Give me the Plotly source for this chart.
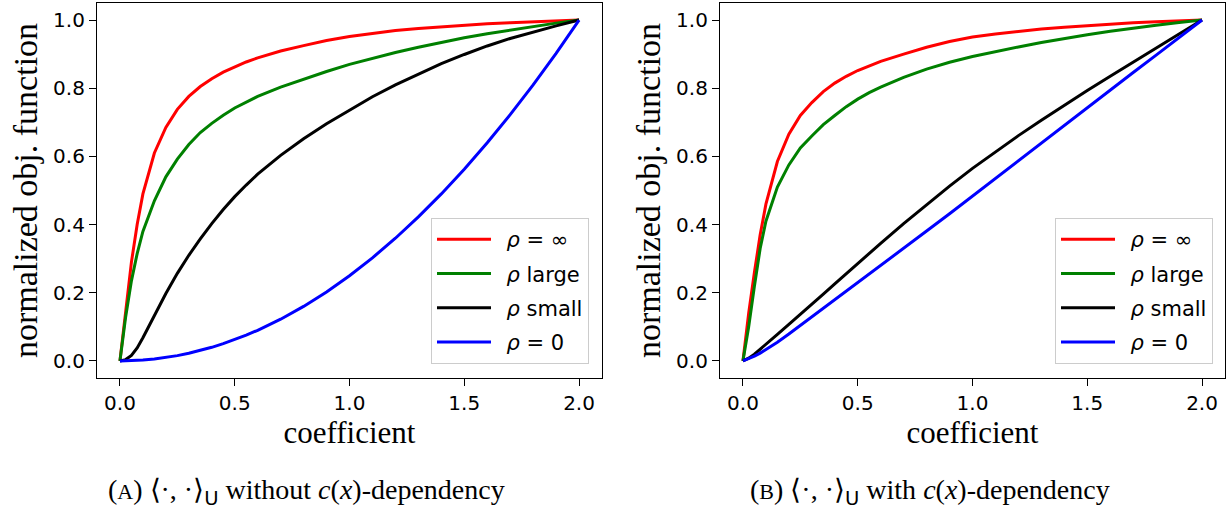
import plotly.graph_objects as go

# ---------------- data ----------------
X = [0, 0.025, 0.05, 0.075, 0.1, 0.15, 0.2, 0.25, 0.3, 0.35, 0.4, 0.45, 0.5,
     0.55, 0.6, 0.7, 0.8, 0.9, 1.0, 1.1, 1.2, 1.3, 1.4, 1.5, 1.6, 1.7, 1.8,
     1.9, 2.0]

# (A) without c(x)-dependency
red_A = [0, 0.15, 0.29, 0.40, 0.49, 0.61, 0.685, 0.738, 0.776, 0.805, 0.828,
         0.847, 0.863, 0.877, 0.889, 0.909, 0.925, 0.94, 0.952, 0.961, 0.969,
         0.975, 0.98, 0.985, 0.989, 0.992, 0.995, 0.998, 1.0]
green_A = [0, 0.13, 0.235, 0.315, 0.38, 0.47, 0.54, 0.592, 0.635, 0.67, 0.697,
           0.721, 0.742, 0.76, 0.776, 0.803, 0.827, 0.849, 0.87, 0.888, 0.905,
           0.92, 0.935, 0.948, 0.96, 0.971, 0.981, 0.991, 1.0]
black_A = [0, 0.004, 0.016, 0.038, 0.068, 0.135, 0.198, 0.257, 0.31, 0.358,
           0.403, 0.444, 0.482, 0.516, 0.548, 0.603, 0.652, 0.696, 0.736, 0.775,
           0.81, 0.842, 0.872, 0.899, 0.924, 0.946, 0.965, 0.983, 1.0]
blue_A = [0, 0.0002, 0.0006, 0.0014, 0.0025, 0.0056, 0.01, 0.0156, 0.0225,
          0.0306, 0.04, 0.0506, 0.0625, 0.0756, 0.09, 0.1225, 0.16, 0.2025,
          0.25, 0.3025, 0.36, 0.4225, 0.49, 0.5625, 0.64, 0.7225, 0.81, 0.9025,
          1.0]

# (B) with c(x)-dependency
red_B = [0, 0.14, 0.26, 0.37, 0.46, 0.585, 0.665, 0.72, 0.758, 0.79, 0.815,
         0.835, 0.852, 0.866, 0.879, 0.9, 0.92, 0.937, 0.95, 0.959, 0.967,
         0.974, 0.979, 0.984, 0.988, 0.992, 0.995, 0.998, 1.0]
green_B = [0, 0.10, 0.22, 0.33, 0.41, 0.51, 0.575, 0.625, 0.66, 0.693, 0.72,
           0.746, 0.768, 0.787, 0.803, 0.832, 0.856, 0.876, 0.893, 0.908,
           0.921, 0.934, 0.946, 0.957, 0.967, 0.977, 0.985, 0.993, 1.0]
black_B = [0, 0.008, 0.02, 0.034, 0.049, 0.078, 0.107, 0.136, 0.166, 0.196,
           0.226, 0.256, 0.286, 0.316, 0.345, 0.403, 0.459, 0.513, 0.565,
           0.614, 0.661, 0.706, 0.75, 0.793, 0.835, 0.877, 0.918, 0.959, 1.0]
blue_B = [0, 0.006, 0.014, 0.023, 0.033, 0.055, 0.079, 0.104, 0.129, 0.154,
          0.179, 0.204, 0.229, 0.254, 0.279, 0.33, 0.381, 0.432, 0.484, 0.535,
          0.587, 0.639, 0.691, 0.743, 0.794, 0.846, 0.897, 0.949, 1.0]

names = ["\u2002<i>ρ</i> = ∞", "\u2002<i>ρ</i> large", "\u2002<i>ρ</i> small",
         "\u2002<i>ρ</i> = 0"]
colors = ["#ff0000", "#008000", "#000000", "#0000ff"]
series_A = [red_A, green_A, black_A, blue_A]
series_B = [red_B, green_B, black_B, blue_B]

x_ticks = [0, 0.5, 1.0, 1.5, 2.0]
y_ticks = [0, 0.2, 0.4, 0.6, 0.8, 1.0]

caption_A = ("(<span style='font-size:22px'>A</span>) ⟨·, ·⟩<sub><span style='font-family:DejaVu Sans'>U</span></sub>"
             " without <i>c</i>(<i>x</i>)-dependency")
caption_B = ("(<span style='font-size:22px'>B</span>) ⟨·, ·⟩<sub><span style='font-family:DejaVu Sans'>U</span></sub>"
             " with <i>c</i>(<i>x</i>)-dependency")

# ---------------- figure ----------------
W, H = 1231, 514
fig = go.Figure()

for i in range(4):
    fig.add_trace(go.Scatter(x=X, y=series_A[i], mode="lines", name=names[i],
                             line=dict(color=colors[i], width=3),
                             xaxis="x", yaxis="y", legend="legend",
                             legendgroup="a%d" % i))
for i in range(4):
    fig.add_trace(go.Scatter(x=X, y=series_B[i], mode="lines", name=names[i],
                             line=dict(color=colors[i], width=3),
                             xaxis="x2", yaxis="y2", legend="legend2",
                             legendgroup="b%d" % i))

tick_font = dict(family="DejaVu Sans", size=20, color="black")
xtitle_font = dict(family="Liberation Serif", size=31, color="black")
ytitle_font = dict(family="Liberation Serif", size=34, color="black")

def xax(domain, anchor):
    return dict(domain=domain, anchor=anchor, range=[-0.1, 2.1], tickvals=x_ticks,
                tickformat=".1f", ticks="outside", ticklen=7, tickwidth=1.2,
                tickcolor="black", showline=True, mirror=True, linecolor="black",
                linewidth=1.2, showgrid=False, zeroline=False, tickfont=tick_font,
                title=dict(text="coefficient", font=xtitle_font, standoff=4))

def yax(anchor):
    return dict(domain=[1 - 378 / H, 1 - 3 / H], anchor=anchor, range=[-0.05, 1.05],
                tickvals=y_ticks, tickformat=".1f", ticks="outside", ticklen=7,
                tickwidth=1.2, tickcolor="black", showline=True, mirror=True,
                linecolor="black", linewidth=1.2, showgrid=False, zeroline=False,
                tickfont=tick_font,
                title=dict(text="normalized obj. function", font=ytitle_font, standoff=5))

def leg(xr):
    return dict(x=xr, y=1 - 364 / H, xanchor="right", yanchor="bottom",
                bgcolor="white", bordercolor="#cccccc", borderwidth=1,
                font=dict(family="DejaVu Sans", size=21, color="black"),
                itemwidth=54, tracegroupgap=4)

fig.update_layout(
    width=W, height=H, margin=dict(l=0, r=0, t=0, b=0),
    paper_bgcolor="white", plot_bgcolor="white", showlegend=True,
    xaxis=xax([97 / W, 602 / W], "y"),
    yaxis=yax("x"),
    xaxis2=xax([720 / W, 1225 / W], "y2"),
    yaxis2=yax("x2"),
    legend=leg(589 / W),
    legend2=leg(1213 / W),
    annotations=[
        dict(text=caption_A, x=306 / W, y=1 - 492 / H, xref="paper", yref="paper",
             showarrow=False, xanchor="center", yanchor="middle",
             font=dict(family="Liberation Serif", size=28, color="black")),
        dict(text=caption_B, x=930 / W, y=1 - 492 / H, xref="paper", yref="paper",
             showarrow=False, xanchor="center", yanchor="middle",
             font=dict(family="Liberation Serif", size=28, color="black")),
    ],
)

fig.write_html("out.html")
